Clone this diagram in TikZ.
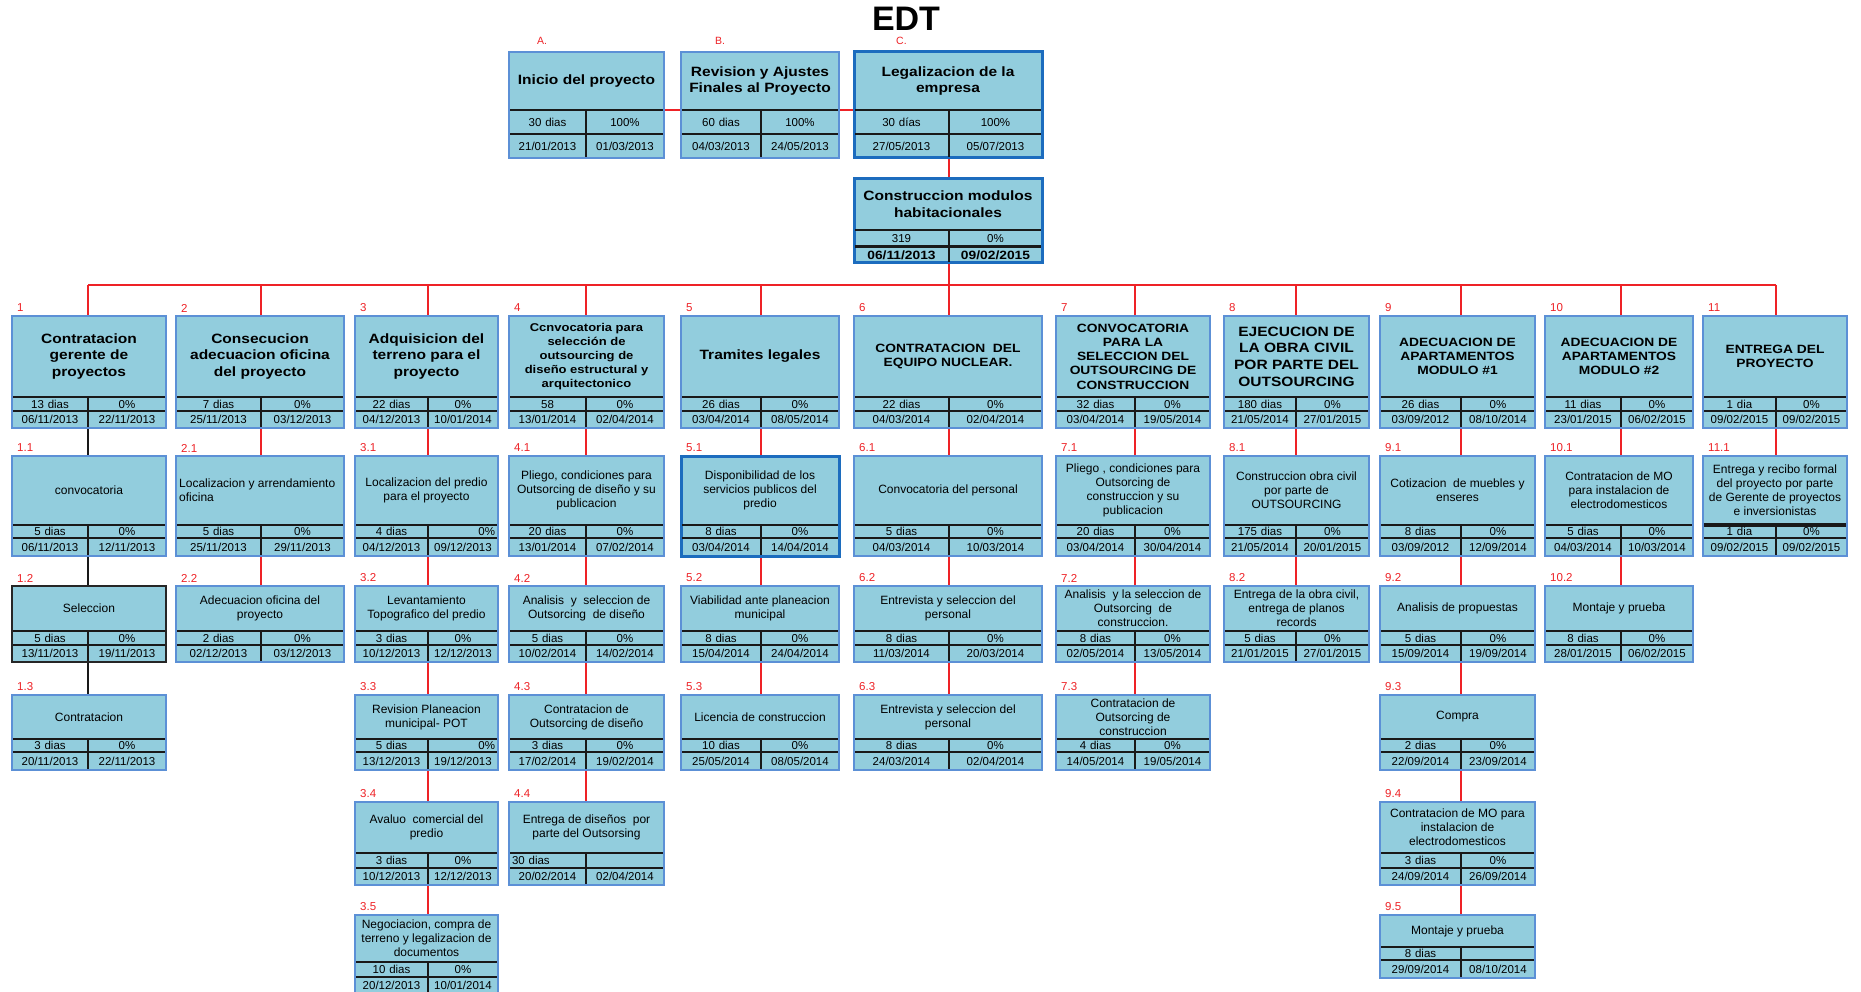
\documentclass[tikz,border=0pt]{standalone}
\usepackage{fontspec}
\setmainfont{Liberation Sans}
\newfontfamily\widefont[FakeStretch=1.15]{Liberation Sans}

\definecolor{cellfill}{RGB}{146,205,221}
\definecolor{edgeblue}{RGB}{92,144,214}
\definecolor{edgedeep}{RGB}{28,108,190}
\definecolor{linkred}{RGB}{238,34,38}

\pgfdeclarelayer{bg}
\pgfdeclarelayer{links}
\pgfsetlayers{bg,links,main}

% column table: left edge, divider, right edge
\newcommand\defcol[4]{%
  \expandafter\def\csname wcl#1\endcsname{#2}%
  \expandafter\def\csname wcd#1\endcsname{#3}%
  \expandafter\def\csname wcr#1\endcsname{#4}}
% row table: top, title rule, row rule, bottom
\newcommand\deflev[5]{%
  \expandafter\def\csname wlt#1\endcsname{#2}%
  \expandafter\def\csname wlh#1\endcsname{#3}%
  \expandafter\def\csname wlr#1\endcsname{#4}%
  \expandafter\def\csname wlb#1\endcsname{#5}}

\defcol{1}{12}{88}{166}
\defcol{2}{176}{261}{344}
\defcol{3}{355}{428}{498}
\defcol{4}{509}{586}{664}
\defcol{5}{681}{761}{839}
\defcol{6}{854}{949}{1042}
\defcol{7}{1056}{1135}{1210}
\defcol{8}{1224}{1296}{1369}
\defcol{9}{1380}{1461}{1535}
\defcol{10}{1545}{1621}{1693}
\defcol{11}{1703}{1776}{1847}

\deflev{T}{52}{110}{134}{158}
\deflev{K}{179}{230}{247}{263}
\deflev{A}{316}{397}{411}{428}
\deflev{B}{456}{525}{538}{556}
\deflev{C}{586}{631}{645}{662}
\deflev{D}{695}{739}{752}{770}
\deflev{E}{802}{853}{868}{885}
\deflev{F}{915}{962}{977}{994}
\deflev{G}{915}{947}{960}{978}

\tikzset{
  wbsnum/.store in=\wbsnum,
  taskbox/.style={rectangle, draw=edgeblue, fill=cellfill, line width=2.8pt, inner sep=0pt, outer sep=0pt},
  deepedge/.style={draw=edgedeep, line width=3pt},
  darkedge/.style={draw=black!85, line width=2.2pt},
  hrule/.style={line width=1.8pt, draw=black!90},
  vrule/.style={line width=1.3pt, draw=black!90},
  ttlbase/.style={font=\fontsize{12}{14}\selectfont, align=center, inner sep=0pt, anchor=center},
  bigtitle/.style={font=\widefont\bfseries\fontsize{13.5}{16.7}\selectfont},
  capstitle/.style={font=\widefont\bfseries\fontsize{12}{14.2}\selectfont},
  smallbold/.style={font=\widefont\bfseries\fontsize{11.3}{14}\selectfont},
  cell/.style={font=\fontsize{11.5}{13}\selectfont, inner sep=0pt, align=center, text height=8.2pt, text depth=0pt, anchor=center},
  datebold/.style={font=\widefont\bfseries\fontsize{12}{13}\selectfont},
  numlabel/.style={font=\fontsize{11.5}{12}\selectfont, text=linkred, inner sep=0pt, anchor=west},
  redlink/.style={draw=linkred, line width=1.5pt},
  blacklink/.style={draw=black!90, line width=1.3pt},
}

% one work package: [options]{name}{column}{row}{title}{duration}{progress}{start}{end}
\newcommand\wbstask[9][]{%
  \def\wbsnum{}%
  \tikzset{wbox/.style={},wtitle/.style={},wdur/.style={},wpct/.style={},wdate/.style={},wtrule/.style={},wrrule/.style={},#1}%
  \edef\wbL{\csname wcl#3\endcsname}%
  \edef\wbD{\csname wcd#3\endcsname}%
  \edef\wbR{\csname wcr#3\endcsname}%
  \edef\wbT{\csname wlt#4\endcsname}%
  \edef\wbH{\csname wlh#4\endcsname}%
  \edef\wbRow{\csname wlr#4\endcsname}%
  \edef\wbB{\csname wlb#4\endcsname}%
  \pgfmathsetmacro\wbMx{(\wbL+\wbR)/2}%
  \pgfmathsetmacro\wbMy{(\wbT+\wbB)/2}%
  \pgfmathsetmacro\wbW{\wbR-\wbL}%
  \pgfmathsetmacro\wbHt{\wbB-\wbT}%
  \pgfmathsetmacro\wbCl{\wbD-\wbL-6}%
  \pgfmathsetmacro\wbCr{\wbR-\wbD-6}%
  \pgfmathsetmacro\wbLi{\wbL+1.4}%
  \pgfmathsetmacro\wbRi{\wbR-1.4}%
  \pgfmathsetmacro\wbBi{\wbB-1.4}%
  \pgfmathsetmacro\wbMt{(\wbT+\wbH)/2}%
  \pgfmathsetmacro\wbMr{(\wbH+\wbRow)/2}%
  \pgfmathsetmacro\wbMb{(\wbRow+\wbB)/2}%
  \pgfmathsetmacro\wbCxl{(\wbL+\wbD)/2}%
  \pgfmathsetmacro\wbCxr{(\wbD+\wbR)/2}%
  \node[taskbox,wbox,minimum width=\wbW pt,minimum height=\wbHt pt] (#2) at (\wbMx,\wbMy) {};%
  \draw[hrule,wtrule] (\wbLi,\wbH) -- (\wbRi,\wbH);%
  \draw[hrule,wrrule] (\wbLi,\wbRow) -- (\wbRi,\wbRow);%
  \draw[vrule] (\wbD,\wbH) -- (\wbD,\wbBi);%
  \node[ttlbase,wtitle] (#2-t) at (\wbMx,\wbMt) {#5};%
  \node[cell,text width=\wbCl pt,wdur] (#2-d) at (\wbCxl,\wbMr) {#6};%
  \node[cell,text width=\wbCr pt,wpct] (#2-p) at (\wbCxr,\wbMr) {#7};%
  \node[cell,text width=\wbCl pt,wdate] (#2-s) at (\wbCxl,\wbMb) {#8};%
  \node[cell,text width=\wbCr pt,wdate] (#2-e) at (\wbCxr,\wbMb) {#9};%
  \coordinate (#2-top) at (\wbD,\wbT);%
  \coordinate (#2-bot) at (\wbD,\wbB);%
  \coordinate (#2-tl) at (\wbL,\wbH);%
  \coordinate (#2-tr) at (\wbR,\wbH);%
  \ifx\wbsnum\empty\else\node[numlabel] (#2-n) at (\wbL+5,\wbT-8) {\wbsnum};\fi
}

\begin{document}
\begin{tikzpicture}[x=1pt,y=-1pt]
\useasboundingbox (0,0) rectangle (1861,992);
\begin{pgfonlayer}{bg}
  \fill[white] (0,0) rectangle (1861,992);
\end{pgfonlayer}

\node[font=\bfseries\fontsize{34}{34}\selectfont, inner sep=0pt] (edt) at (906,19) {EDT};

% project phases
\wbstask[wtitle/.style={bigtitle}]{tA}{4}{T}{Inicio del proyecto}{30 dias}{100\%}{21/01/2013}{01/03/2013}
\wbstask[wtitle/.style={bigtitle}]{tB}{5}{T}{Revision y Ajustes\\Finales al Proyecto}{60 dias}{100\%}{04/03/2013}{24/05/2013}
\wbstask[wbox/.style={deepedge},wtitle/.style={bigtitle}]{tC}{6}{T}{Legalizacion de la\\empresa}{30 días}{100\%}{27/05/2013}{05/07/2013}
\node[numlabel, font=\fontsize{10.5}{12}\selectfont] (labA) at (537,41) {A.};
\node[numlabel, font=\fontsize{10.5}{12}\selectfont] (labB) at (715,41) {B.};
\node[numlabel, font=\fontsize{10.5}{12}\selectfont] (labC) at (896,41) {C.};

\wbstask[wbox/.style={deepedge},wtitle/.style={bigtitle},wdate/.style={datebold},wrrule/.style={line width=3pt}]{tK}{6}{K}{Construccion modulos\\habitacionales}{319}{0\%}{06/11/2013}{09/02/2015}

% level 1
\wbstask[wbsnum=1,wtitle/.style={bigtitle}]{t1}{1}{A}{Contratacion\\gerente de\\proyectos}{13 dias}{0\%}{06/11/2013}{22/11/2013}
\wbstask[wbsnum=2,wtitle/.style={bigtitle}]{t2}{2}{A}{Consecucion\\adecuacion oficina\\del proyecto}{7 dias}{0\%}{25/11/2013}{03/12/2013}
\wbstask[wbsnum=3,wtitle/.style={bigtitle}]{t3}{3}{A}{Adquisicion del\\terreno para el\\proyecto}{22 dias}{0\%}{04/12/2013}{10/01/2014}
\wbstask[wbsnum=4,wtitle/.style={smallbold}]{t4}{4}{A}{Ccnvocatoria para\\selección de\\outsourcing de\\diseño estructural y\\arquitectonico}{58}{0\%}{13/01/2014}{02/04/2014}
\wbstask[wbsnum=5,wtitle/.style={bigtitle}]{t5}{5}{A}{Tramites legales}{26 dias}{0\%}{03/04/2014}{08/05/2014}
\wbstask[wbsnum=6,wtitle/.style={capstitle}]{t6}{6}{A}{CONTRATACION\ \ DEL\\EQUIPO NUCLEAR.}{22 dias}{0\%}{04/03/2014}{02/04/2014}
\wbstask[wbsnum=7,wtitle/.style={capstitle}]{t7}{7}{A}{CONVOCATORIA\\PARA LA\\SELECCION DEL\\OUTSOURCING DE\\CONSTRUCCION}{32 dias}{0\%}{03/04/2014}{19/05/2014}
\wbstask[wbsnum=8,wtitle/.style={bigtitle}]{t8}{8}{A}{EJECUCION DE\\LA OBRA CIVIL\\POR PARTE DEL\\OUTSOURCING}{180 dias}{0\%}{21/05/2014}{27/01/2015}
\wbstask[wbsnum=9,wtitle/.style={capstitle}]{t9}{9}{A}{ADECUACION DE\\APARTAMENTOS\\MODULO \#1}{26 dias}{0\%}{03/09/2012}{08/10/2014}
\wbstask[wbsnum=10,wtitle/.style={capstitle}]{t10}{10}{A}{ADECUACION DE\\APARTAMENTOS\\MODULO \#2}{11 dias}{0\%}{23/01/2015}{06/02/2015}
\wbstask[wbsnum=11,wtitle/.style={capstitle}]{t11}{11}{A}{ENTREGA DEL\\PROYECTO}{1 dia}{0\%}{09/02/2015}{09/02/2015}

% level 2
\wbstask[wbsnum=1.1]{t1-1}{1}{B}{convocatoria}{5 dias}{0\%}{06/11/2013}{12/11/2013}
\wbstask[wbsnum=2.1,wtitle/.style={anchor=west,align=left,xshift=-81pt}]{t2-1}{2}{B}{Localizacion y arrendamiento\\oficina}{5 dias}{0\%}{25/11/2013}{29/11/2013}
\wbstask[wbsnum=3.1,wpct/.style={align=right}]{t3-1}{3}{B}{Localizacion del predio\\para el proyecto}{4 dias}{0\%}{04/12/2013}{09/12/2013}
\wbstask[wbsnum=4.1]{t4-1}{4}{B}{Pliego, condiciones para\\Outsorcing de diseño y su\\publicacion}{20 dias}{0\%}{13/01/2014}{07/02/2014}
\wbstask[wbsnum=5.1,wbox/.style={deepedge}]{t5-1}{5}{B}{Disponibilidad de los\\servicios publicos del\\predio}{8 dias}{0\%}{03/04/2014}{14/04/2014}
\wbstask[wbsnum=6.1]{t6-1}{6}{B}{Convocatoria del personal}{5 dias}{0\%}{04/03/2014}{10/03/2014}
\wbstask[wbsnum=7.1]{t7-1}{7}{B}{Pliego , condiciones para\\Outsorcing de\\construccion y su\\publicacion}{20 dias}{0\%}{03/04/2014}{30/04/2014}
\wbstask[wbsnum=8.1]{t8-1}{8}{B}{Construccion obra civil\\por parte de\\OUTSOURCING}{175 dias}{0\%}{21/05/2014}{20/01/2015}
\wbstask[wbsnum=9.1]{t9-1}{9}{B}{Cotizacion\ \ de muebles y\\enseres}{8 dias}{0\%}{03/09/2012}{12/09/2014}
\wbstask[wbsnum=10.1]{t10-1}{10}{B}{Contratacion de MO\\para instalacion de\\electrodomesticos}{5 dias}{0\%}{04/03/2014}{10/03/2014}
\wbstask[wbsnum=11.1,wtrule/.style={line width=3.5pt}]{t11-1}{11}{B}{Entrega y recibo formal\\del proyecto por parte\\de Gerente de proyectos\\e inversionistas}{1 dia}{0\%}{09/02/2015}{09/02/2015}

% level 3
\wbstask[wbsnum=1.2,wbox/.style={darkedge}]{t1-2}{1}{C}{Seleccion}{5 dias}{0\%}{13/11/2013}{19/11/2013}
\wbstask[wbsnum=2.2]{t2-2}{2}{C}{Adecuacion oficina del\\proyecto}{2 dias}{0\%}{02/12/2013}{03/12/2013}
\wbstask[wbsnum=3.2]{t3-2}{3}{C}{Levantamiento\\Topografico del predio}{3 dias}{0\%}{10/12/2013}{12/12/2013}
\wbstask[wbsnum=4.2]{t4-2}{4}{C}{Analisis\ \ y\ \ seleccion de\\Outsorcing\ \ de diseño}{5 dias}{0\%}{10/02/2014}{14/02/2014}
\wbstask[wbsnum=5.2]{t5-2}{5}{C}{Viabilidad ante planeacion\\municipal}{8 dias}{0\%}{15/04/2014}{24/04/2014}
\wbstask[wbsnum=6.2]{t6-2}{6}{C}{Entrevista y seleccion del\\personal}{8 dias}{0\%}{11/03/2014}{20/03/2014}
\wbstask[wbsnum=7.2]{t7-2}{7}{C}{Analisis\ \ y la seleccion de\\Outsorcing\ \ de\\construccion.}{8 dias}{0\%}{02/05/2014}{13/05/2014}
\wbstask[wbsnum=8.2]{t8-2}{8}{C}{Entrega de la obra civil,\\entrega de planos\\records}{5 dias}{0\%}{21/01/2015}{27/01/2015}
\wbstask[wbsnum=9.2]{t9-2}{9}{C}{Analisis de propuestas}{5 dias}{0\%}{15/09/2014}{19/09/2014}
\wbstask[wbsnum=10.2]{t10-2}{10}{C}{Montaje y prueba}{8 dias}{0\%}{28/01/2015}{06/02/2015}

% level 4
\wbstask[wbsnum=1.3]{t1-3}{1}{D}{Contratacion}{3 dias}{0\%}{20/11/2013}{22/11/2013}
\wbstask[wbsnum=3.3,wpct/.style={align=right}]{t3-3}{3}{D}{Revision Planeacion\\municipal- POT}{5 dias}{0\%}{13/12/2013}{19/12/2013}
\wbstask[wbsnum=4.3]{t4-3}{4}{D}{Contratacion de\\Outsorcing de diseño}{3 dias}{0\%}{17/02/2014}{19/02/2014}
\wbstask[wbsnum=5.3]{t5-3}{5}{D}{Licencia de construccion}{10 dias}{0\%}{25/05/2014}{08/05/2014}
\wbstask[wbsnum=6.3]{t6-3}{6}{D}{Entrevista y seleccion del\\personal}{8 dias}{0\%}{24/03/2014}{02/04/2014}
\wbstask[wbsnum=7.3]{t7-3}{7}{D}{Contratacion de\\Outsorcing de\\construccion}{4 dias}{0\%}{14/05/2014}{19/05/2014}
\wbstask[wbsnum=9.3]{t9-3}{9}{D}{Compra}{2 dias}{0\%}{22/09/2014}{23/09/2014}

% level 5
\wbstask[wbsnum=3.4]{t3-4}{3}{E}{Avaluo\ \ comercial del\\predio}{3 dias}{0\%}{10/12/2013}{12/12/2013}
\wbstask[wbsnum=4.4,wdur/.style={align=left}]{t4-4}{4}{E}{Entrega de diseños\ \ por\\parte del Outsorsing}{30 dias}{}{20/02/2014}{02/04/2014}
\wbstask[wbsnum=9.4]{t9-4}{9}{E}{Contratacion de MO para\\instalacion de\\electrodomesticos}{3 dias}{0\%}{24/09/2014}{26/09/2014}

% level 6
\wbstask[wbsnum=3.5]{t3-5}{3}{F}{Negociacion, compra de\\terreno y legalizacion de\\documentos}{10 dias}{0\%}{20/12/2013}{10/01/2014}
\wbstask[wbsnum=9.5]{t9-5}{9}{G}{Montaje y prueba}{8 dias}{}{29/09/2014}{08/10/2014}

% connectors
\begin{pgfonlayer}{links}
  \coordinate (bus) at (949,285);
  \draw[redlink] (tA-tr) -- (tB-tl);
  \draw[redlink] (tB-tr) -- (tC-tl);
  \draw[redlink] (tC-bot) -- (tK-top);
  \draw[redlink] (tK-bot) -- (bus);
  \draw[redlink] (bus -| t1-top) -- (bus -| t11-top);
  \foreach \c in {1,...,11} \draw[redlink] (bus -| t\c-top) -- (t\c-top);
  \foreach \a/\b in {t1/t1-1, t1-1/t1-2, t1-2/t1-3}
    \draw[blacklink] (\a-bot) -- (\b-top);
  \foreach \a/\b in {t2/t2-1, t2-1/t2-2,
                     t3/t3-1, t3-1/t3-2, t3-2/t3-3, t3-3/t3-4, t3-4/t3-5,
                     t4/t4-1, t4-1/t4-2, t4-2/t4-3, t4-3/t4-4,
                     t5/t5-1, t5-1/t5-2, t5-2/t5-3,
                     t6/t6-1, t6-1/t6-2, t6-2/t6-3,
                     t7/t7-1, t7-1/t7-2, t7-2/t7-3,
                     t8/t8-1, t8-1/t8-2,
                     t9/t9-1, t9-1/t9-2, t9-2/t9-3, t9-3/t9-4, t9-4/t9-5,
                     t10/t10-1, t10-1/t10-2,
                     t11/t11-1}
    \draw[redlink] (\a-bot) -- (\b-top);
\end{pgfonlayer}
\end{tikzpicture}
\end{document}
